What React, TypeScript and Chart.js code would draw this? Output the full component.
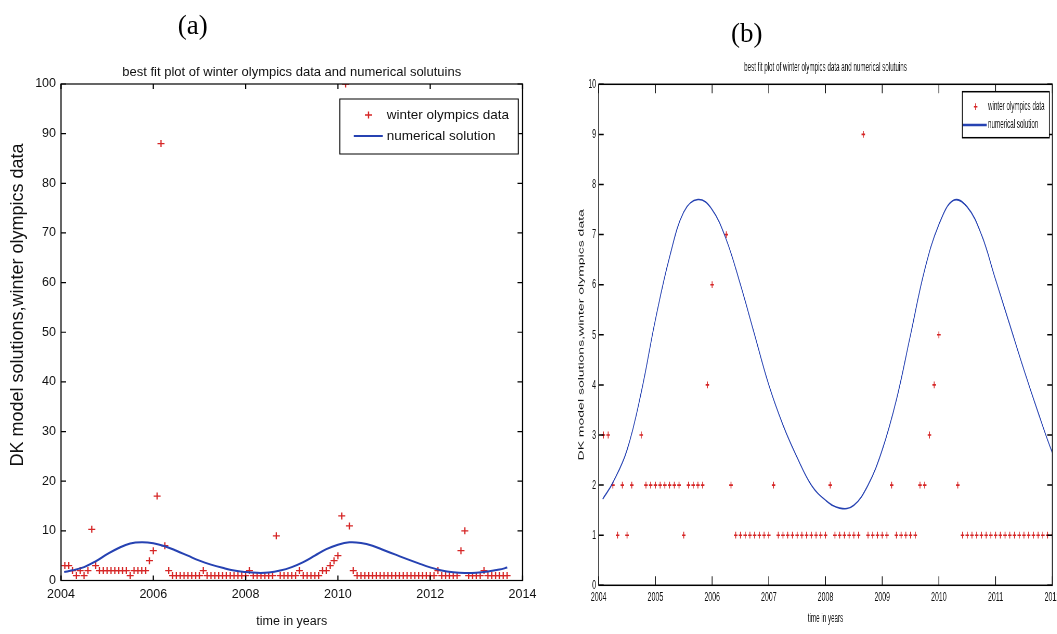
import React, { useEffect, useRef } from 'react';
import { Chart, registerables } from 'chart.js';

Chart.register(...registerables);

// ---------------- data ----------------
// monthly values, first value belongs to month index 1 (i.e. 2004 + 1/12)
const firstMonthIndex = 1;
const olympicsValues = [
  3, 3, 2, 1, 2, 1, 2, 10.3, 3, 2,
  2, 2, 2, 2, 2, 2, 2, 1, 2, 2,
  2, 2, 4, 6, 17, 88, 7, 2, 1, 1,
  1, 1, 1, 1, 1, 1, 2, 1, 1, 1,
  1, 1, 1, 1, 1, 1, 1, 1, 2, 1,
  1, 1, 1, 1, 1, 9, 1, 1, 1, 1,
  1, 2, 1, 1, 1, 1, 1, 2, 2, 3,
  4, 5, 13, 100, 11, 2, 1, 1, 1, 1,
  1, 1, 1, 1, 1, 1, 1, 1, 1, 1,
  1, 1, 1, 1, 1, 1, 1, 2, 1, 1,
  1, 1, 1, 6, 10, 1, 1, 1, 1, 2,
  1, 1, 1, 1, 1, 1,
];

const curveYears = [
  2004.07, 2004.25, 2004.5, 2004.75, 2005, 2005.25, 2005.5, 2005.75, 2006, 2006.25,
  2006.5, 2006.75, 2007, 2007.25, 2007.5, 2007.75, 2008, 2008.25, 2008.5, 2008.75,
  2009, 2009.25, 2009.5, 2009.75, 2010, 2010.25, 2010.5, 2010.75, 2011, 2011.25,
  2011.5, 2011.75, 2012, 2012.25, 2012.5, 2012.75, 2013, 2013.25, 2013.5, 2013.67,
];
const curveValues = [
  1.72, 2.05, 2.7, 3.85, 5.3, 6.55, 7.45, 7.7, 7.5, 6.9,
  6.0, 5.0, 4.0, 3.2, 2.55, 2.0, 1.7, 1.54, 1.6, 2.0,
  2.7, 3.7, 5.0, 6.3, 7.2, 7.68, 7.55, 7.0, 6.1, 5.2,
  4.3, 3.45, 2.65, 2.0, 1.65, 1.5, 1.55, 1.8, 2.2, 2.6,
];

const titleText = 'best fit plot of winter olympics data and numerical solutuins';
const xTitle = 'time in years';
const yTitle = 'DK model solutions,winter olympics data';
const legendLabels = ['winter olympics data', 'numerical solution'];

const RED = 'rgb(214,38,38)';
const BLUE = 'rgb(38,66,178)';
const FONT = '"Liberation Sans", Arial, Helvetica, sans-serif';
const TEXT = '#111';

// ---------------- plugins ----------------
const boxPlugin = {
  id: 'matlabBox',
  afterDatasetsDraw(chart: any, _a: any, opts: any) {
    const { ctx, chartArea, scales } = chart;
    const { left, right, top, bottom } = chartArea;
    ctx.save();
    ctx.strokeStyle = '#000';
    ctx.lineWidth = opts.lineWidth;
    ctx.beginPath();
    scales.x.ticks.forEach((t: any) => {
      const px = scales.x.getPixelForValue(t.value);
      ctx.moveTo(px, bottom);
      ctx.lineTo(px, bottom - opts.xTickLen);
      ctx.moveTo(px, top);
      ctx.lineTo(px, top + opts.xTickLen);
    });
    scales.y.ticks.forEach((t: any) => {
      const py = scales.y.getPixelForValue(t.value);
      ctx.moveTo(left, py);
      ctx.lineTo(left + opts.yTickLen, py);
      ctx.moveTo(right, py);
      ctx.lineTo(right - opts.yTickLen, py);
    });
    ctx.stroke();
    ctx.strokeRect(left, top, right - left, bottom - top);
    ctx.restore();
  },
};

// y-axis label drawn at an explicit centre (used where the label is not centred on the axis)
const yLabelPlugin = {
  id: 'yLabel',
  afterDraw(chart: any, _a: any, o: any) {
    if (!o || !o.text) return;
    const { ctx } = chart;
    ctx.save();
    ctx.translate(o.x, o.y);
    ctx.rotate(-Math.PI / 2);
    ctx.fillStyle = TEXT;
    ctx.font = `${o.size}px ${FONT}`;
    ctx.textAlign = 'center';
    ctx.textBaseline = 'middle';
    ctx.fillText(o.text, 0, 0);
    ctx.restore();
  },
};

const legendPlugin = {
  id: 'matlabLegend',
  afterDraw(chart: any, _a: any, o: any) {
    const { ctx, chartArea } = chart;
    const bx = chartArea.right - o.rightInset - o.width;
    const by = chartArea.top + o.topInset;
    ctx.save();
    ctx.fillStyle = '#fff';
    ctx.fillRect(bx, by, o.width, o.height);
    ctx.strokeStyle = '#000';
    ctx.lineWidth = o.boxLineWidth;
    ctx.strokeRect(bx, by, o.width, o.height);
    const mx = bx + o.markerX;
    const my = by + o.row1;
    ctx.strokeStyle = RED;
    ctx.lineWidth = o.markerWidth;
    ctx.beginPath();
    ctx.moveTo(mx - o.markerR, my);
    ctx.lineTo(mx + o.markerR, my);
    ctx.moveTo(mx, my - o.markerR);
    ctx.lineTo(mx, my + o.markerR);
    ctx.stroke();
    ctx.strokeStyle = BLUE;
    ctx.lineWidth = o.lineWidth;
    ctx.beginPath();
    ctx.moveTo(bx + o.lineX0, by + o.row2);
    ctx.lineTo(bx + o.lineX1, by + o.row2);
    ctx.stroke();
    ctx.fillStyle = TEXT;
    ctx.font = `${o.fontSize}px ${FONT}`;
    ctx.textBaseline = 'middle';
    ctx.textAlign = 'left';
    ctx.fillText(legendLabels[0], bx + o.textX, by + o.row1);
    ctx.fillText(legendLabels[1], bx + o.textX, by + o.row2);
    ctx.restore();
  },
};

// ---------------- config ----------------
function makeDatasets(markerR: number, markerW: number, lineW: number) {
  const pts = olympicsValues.map((v, i) => ({ x: 2004 + (firstMonthIndex + i) / 12, y: v }));
  const curve = curveYears.map((x, i) => ({ x, y: curveValues[i] }));
  return [
    {
      label: legendLabels[0],
      data: pts,
      order: 1,
      showLine: false,
      pointStyle: 'cross',
      pointRadius: markerR,
      pointHoverRadius: markerR,
      pointBorderWidth: markerW,
      pointBorderColor: RED,
      borderColor: RED,
      backgroundColor: RED,
    },
    {
      label: legendLabels[1],
      data: curve,
      order: 0,
      showLine: true,
      pointRadius: 0,
      pointHoverRadius: 0,
      borderColor: BLUE,
      backgroundColor: BLUE,
      borderWidth: lineW,
      tension: 0.4,
      fill: false,
    },
  ];
}

interface Geo {
  width: number; height: number;
  left: number; right: number; bottom: number;
  titleSize: number; titlePadTop: number; titlePadBottom: number;
  tickSize: number; xTickPad: number; yTickPad: number;
  xTitleSize: number; xTitlePadBottom: number;
  yTitleSize: number; yTitlePadTop: number; yTitleCustom: any;
  xMin: number; xMax: number; xStep: number;
  yMax: number; yStep: number;
  markerR: number; markerW: number; lineW: number;
  boxLW: number; xTickLen: number; yTickLen: number;
  legend: any;
}

function makeConfig(g: Geo): any {
  return {
    type: 'scatter',
    data: { datasets: makeDatasets(g.markerR, g.markerW, g.lineW) },
    plugins: [boxPlugin, legendPlugin, yLabelPlugin],
    options: {
      responsive: false,
      animation: false,
      devicePixelRatio: 1,
      events: [],
      layout: { padding: { left: 0, top: 0, right: g.width - g.right, bottom: 0 } },
      plugins: {
        legend: { display: false },
        tooltip: { enabled: false },
        title: {
          display: true,
          text: titleText,
          fullSize: false,
          color: TEXT,
          font: { family: FONT, size: g.titleSize, weight: 'normal' },
          padding: { top: g.titlePadTop, bottom: g.titlePadBottom },
        },
        matlabBox: { lineWidth: g.boxLW, xTickLen: g.xTickLen, yTickLen: g.yTickLen },
        matlabLegend: g.legend,
        yLabel: g.yTitleCustom || { text: '' },
      },
      scales: {
        x: {
          type: 'linear',
          position: 'bottom',
          min: g.xMin,
          max: g.xMax,
          grid: { display: false, drawTicks: false },
          border: { display: false },
          ticks: {
            stepSize: g.xStep,
            padding: g.xTickPad,
            color: TEXT,
            autoSkip: false,
            maxRotation: 0,
            font: { family: FONT, size: g.tickSize },
            callback: (v: any) => String(v),
          },
          title: {
            display: true,
            text: xTitle,
            color: TEXT,
            font: { family: FONT, size: g.xTitleSize },
            padding: { top: 0, bottom: g.xTitlePadBottom },
          },
          afterFit: (s: any) => {
            s.height = g.height - g.bottom;
            s.paddingLeft = 0;
            s.paddingRight = 0;
          },
        },
        y: {
          type: 'linear',
          position: 'left',
          min: 0,
          max: g.yMax,
          grid: { display: false, drawTicks: false },
          border: { display: false },
          ticks: {
            stepSize: g.yStep,
            padding: g.yTickPad,
            color: TEXT,
            autoSkip: false,
            font: { family: FONT, size: g.tickSize },
            callback: (v: any) => String(v),
          },
          title: {
            display: !g.yTitleCustom,
            text: yTitle,
            color: TEXT,
            font: { family: FONT, size: g.yTitleSize },
            padding: { top: g.yTitlePadTop, bottom: 0 },
          },
          afterFit: (s: any) => {
            s.width = g.left;
            s.paddingTop = 0;
            s.paddingBottom = 0;
          },
        },
      },
    },
  };
}

const geoA: Geo = {
  width: 552, height: 634, left: 61, right: 522.5, bottom: 580.5,
  titleSize: 13, titlePadTop: 64.9, titlePadBottom: 3.5,
  tickSize: 12.5, xTickPad: 7, yTickPad: 5,
  xTitleSize: 12.5, xTitlePadBottom: 4.5,
  yTitleSize: 18, yTitlePadTop: 8, yTitleCustom: { text: yTitle, x: 18.5, y: 305, size: 18 },
  xMin: 2004, xMax: 2014, xStep: 2, yMax: 100, yStep: 10,
  markerR: 3.5, markerW: 1.3, lineW: 2,
  boxLW: 1.2, xTickLen: 5, yTickLen: 5,
  legend: {
    rightInset: 4.2, topInset: 15, width: 178.5, height: 55,
    markerX: 28.7, markerR: 3.5, markerWidth: 1.3,
    lineX0: 14, lineX1: 43, lineWidth: 2,
    textX: 47, row1: 16, row2: 37, fontSize: 13.5, boxLineWidth: 1,
  },
};

const SB = 0.52; // horizontal squeeze of panel (b)
const geoB: Geo = {
  width: 1014, height: 634, left: 132.1, right: 1004.4, bottom: 585.3,
  titleSize: 12, titlePadTop: 60, titlePadBottom: 9.9,
  tickSize: 13.5, xTickPad: 3.4, yTickPad: 5,
  xTitleSize: 12, xTitlePadBottom: 7.8,
  yTitleSize: 14, yTitlePadTop: 90.6, yTitleCustom: null,
  xMin: 2004, xMax: 2012, xStep: 1, yMax: 10, yStep: 1,
  markerR: 3.4, markerW: 1.6, lineW: 1.6,
  boxLW: 1.5, xTickLen: 9, yTickLen: 9.6,
  legend: {
    rightInset: 5.7, topInset: 7.4, width: 167.4, height: 46,
    markerX: 25.7, markerR: 3.4, markerWidth: 1.6,
    lineX0: 1.4, lineX1: 47, lineWidth: 2.4,
    textX: 49.5, row1: 15, row2: 33.3, fontSize: 12, boxLineWidth: 1.5,
  },
};

const panelLabel = (x: number, y: number): React.CSSProperties => ({
  position: 'absolute',
  left: x,
  top: y,
  transform: 'translate(-50%, -50%)',
  fontFamily: '"Liberation Serif", "DejaVu Serif", serif',
  fontSize: 27,
  lineHeight: 1,
  whiteSpace: 'nowrap',
  color: '#000',
});

export default function App() {
  const refA = useRef<HTMLCanvasElement>(null);
  const refB = useRef<HTMLCanvasElement>(null);

  useEffect(() => {
    const a = new Chart(refA.current as HTMLCanvasElement, makeConfig(geoA));
    const b = new Chart(refB.current as HTMLCanvasElement, makeConfig(geoB));
    return () => {
      a.destroy();
      b.destroy();
    };
  }, []);

  return (
    <div style={{ position: 'absolute', left: 0, top: 0, width: 1057, height: 634, overflow: 'hidden', background: '#fff' }}>
      <div style={{ position: 'absolute', left: 530, top: 0, width: 1014, height: 634, transform: `scaleX(${SB})`, transformOrigin: '0 0' }}>
        <canvas ref={refB} width={1014} height={634} />
      </div>
      <canvas ref={refA} width={552} height={634} style={{ position: 'absolute', left: 0, top: 0 }} />
      <div style={panelLabel(192.7, 25.4)}>(a)</div>
      <div style={panelLabel(746.8, 32.8)}>(b)</div>
    </div>
  );
}
